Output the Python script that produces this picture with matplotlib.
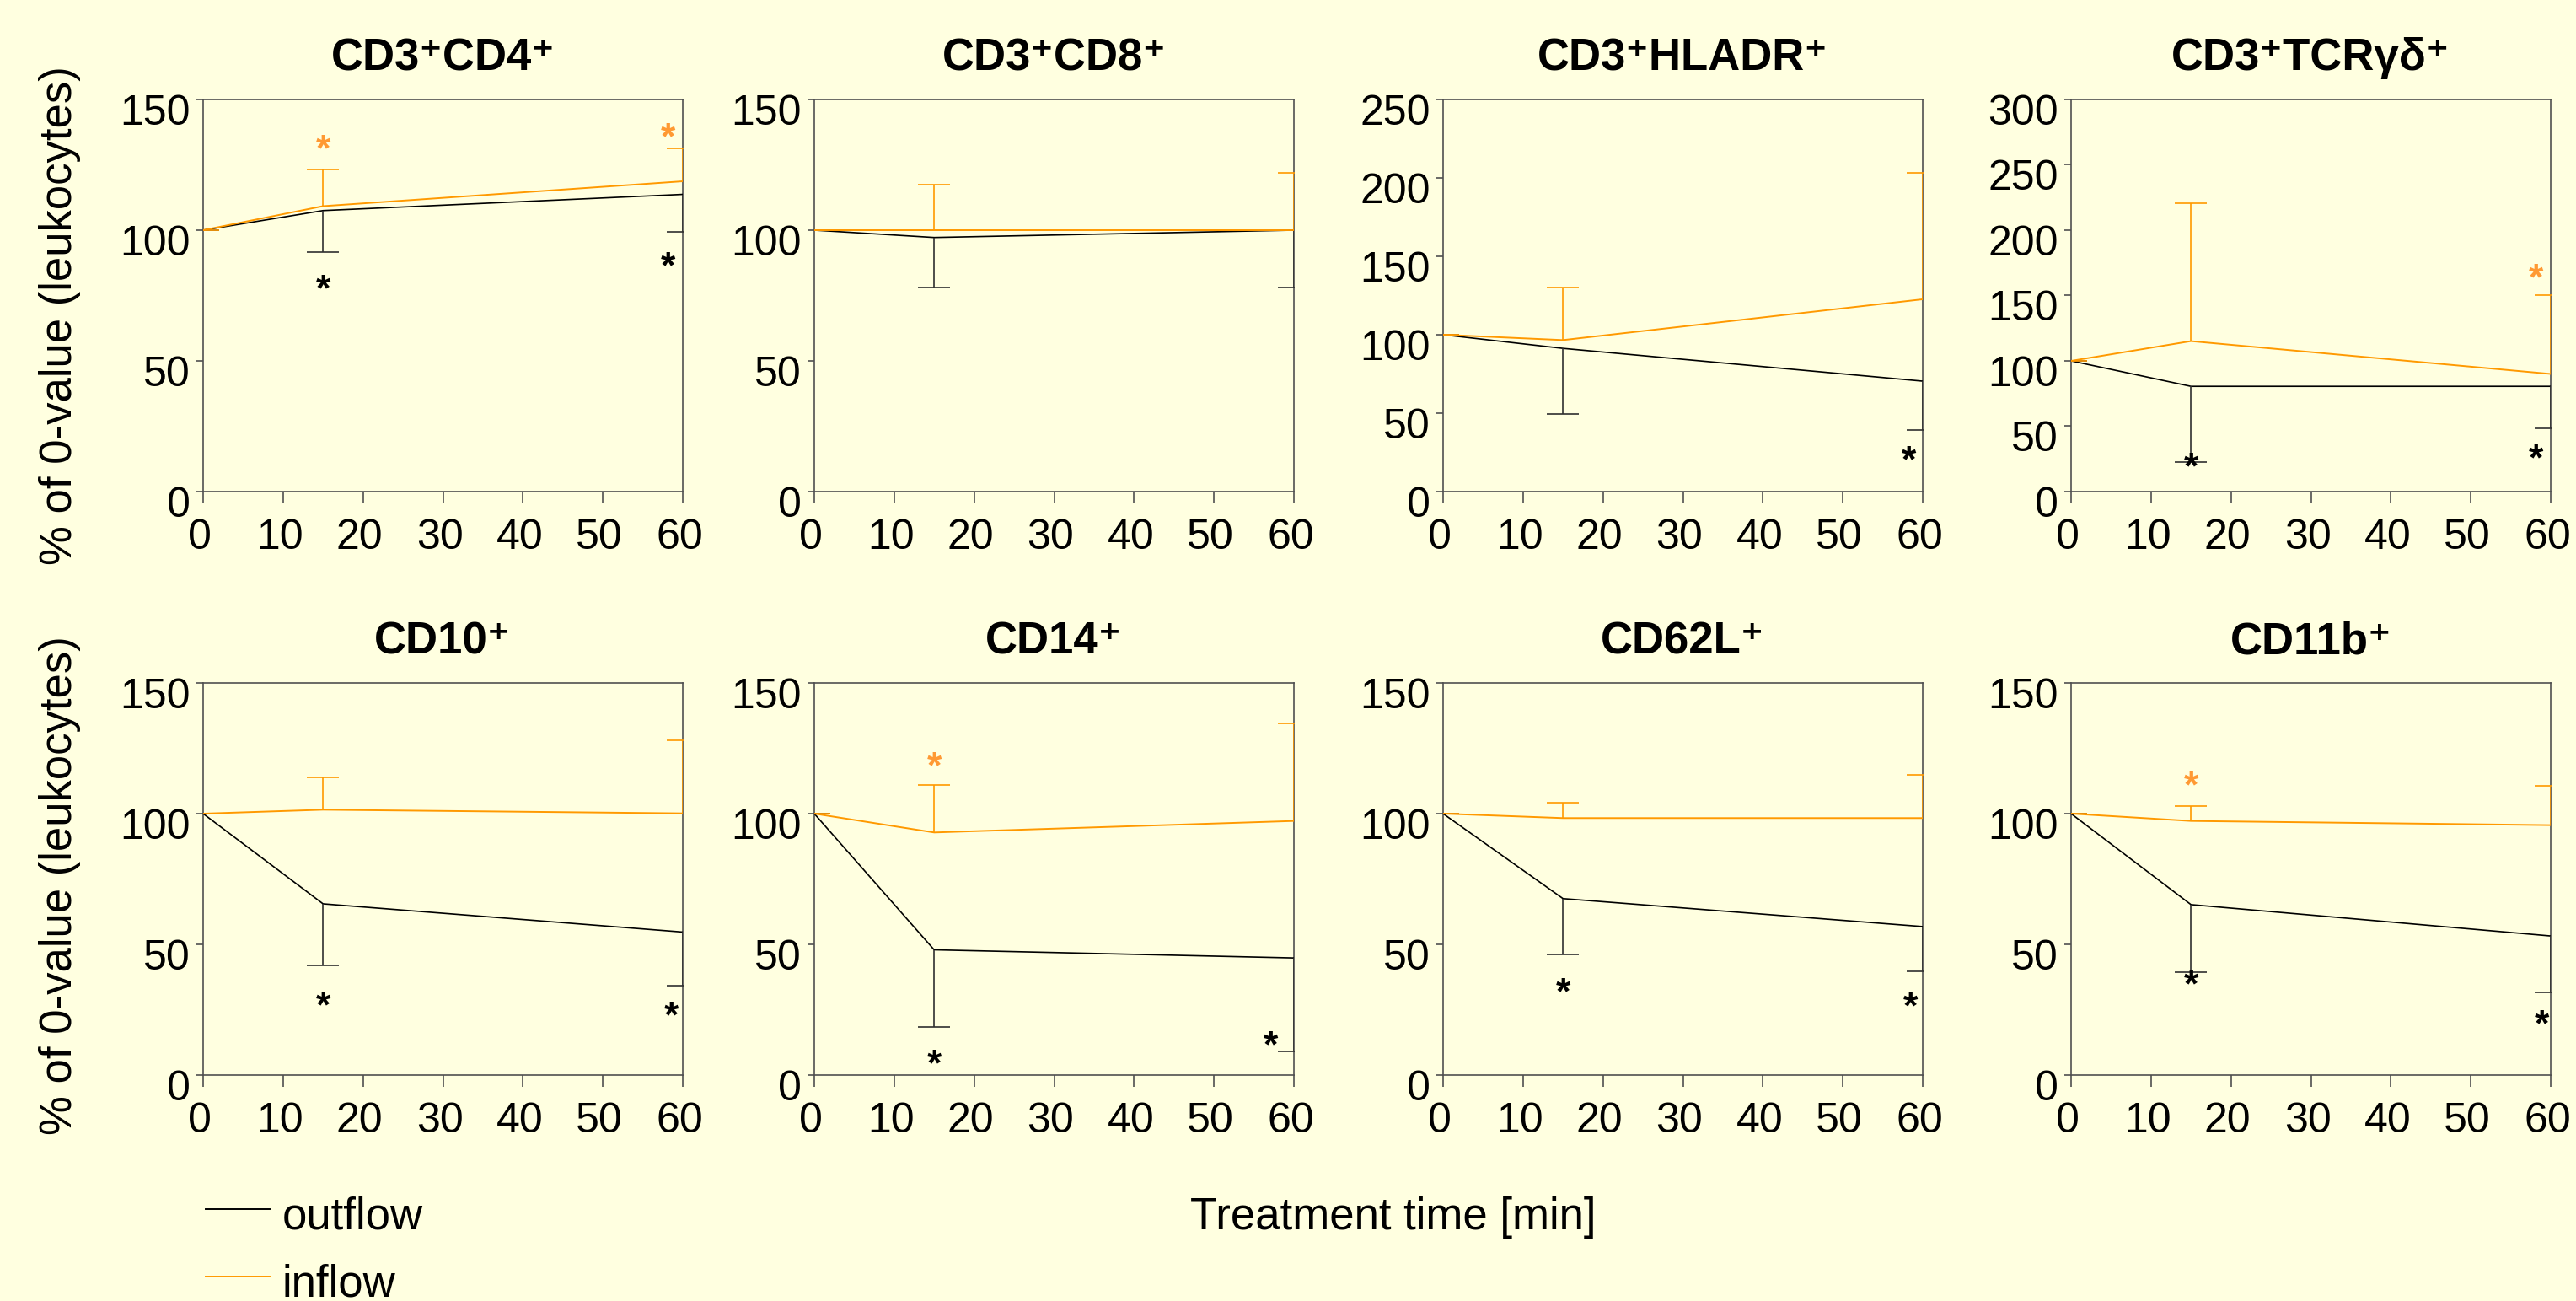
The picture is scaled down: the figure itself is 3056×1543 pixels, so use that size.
import matplotlib
matplotlib.use('Agg')
import matplotlib.pyplot as plt
import matplotlib.transforms as mtransforms
from matplotlib.lines import Line2D

plt.rcParams['font.family'] = ['Liberation Sans', 'DejaVu Sans']

# ---------------- data ----------------
times = [0, 15, 60]
titles = ['CD3⁺CD4⁺', 'CD3⁺CD8⁺', 'CD3⁺HLADR⁺', 'CD3⁺TCRγδ⁺',
          'CD10⁺', 'CD14⁺', 'CD62L⁺', 'CD11b⁺']
y_max = [150, 150, 250, 300, 150, 150, 150, 150]
x_ticks = [0, 10, 20, 30, 40, 50, 60]

outflow_mean = [
    [100, 107.5, 113.7],
    [100, 97.2, 100.0],
    [100, 91.3, 70.4],
    [100, 80.5, 80.5],
    [100, 65.5, 54.7],
    [100, 47.9, 44.8],
    [100, 67.5, 56.8],
    [100, 65.2, 53.2],
]
outflow_sd = [
    [0, 15.9, 14.2],
    [0, 19.0, 22.0],
    [0, 42.0, 31.2],
    [0, 58.0, 32.3],
    [0, 23.5, 20.6],
    [0, 29.6, 35.8],
    [0, 21.5, 17.1],
    [0, 25.9, 21.5],
]
inflow_mean = [
    [100, 109.2, 118.7],
    [100, 100.0, 100.0],
    [100, 96.6, 122.6],
    [100, 115.1, 90.0],
    [100, 101.5, 100.1],
    [100, 92.8, 97.2],
    [100, 98.3, 98.3],
    [100, 97.2, 95.6],
]
inflow_sd = [
    [0, 14.1, 12.6],
    [0, 17.3, 22.0],
    [0, 33.4, 80.5],
    [0, 105.3, 60.0],
    [0, 12.4, 28.0],
    [0, 18.3, 37.2],
    [0, 5.8, 16.5],
    [0, 5.7, 15.0],
]
# significance asterisks (x, y)
outflow_sig = [
    [(15, 81.5), (58.1, 90.1)],
    [],
    [(58.3, 26.4)],
    [(15, 26.5), (58.1, 33.2)],
    [(15, 30.3), (58.6, 26.7)],
    [(15, 8.3), (57.1, 15.4)],
    [(15, 35.7), (58.5, 30.1)],
    [(15, 38.4), (58.9, 23.4)],
]
inflow_sig = [
    [(15, 134.9), (58.1, 139.5)],
    [],
    [],
    [(58.1, 171.0)],
    [],
    [(15, 121.9)],
    [],
    [(15, 114.6)],
]
series_labels = ['outflow', 'inflow']
ylabel = '% of 0-value (leukocytes)'
xlabel = 'Treatment time [min]'

# ---------------- style ----------------
W, H, DPI = 3056, 1543, 100
BG = '#FFFFE0'
C_OUT = '#000000'
C_IN = '#FF9900'
C_IN_STAR = '#FF9933'
SPINE = '#505050'
TICK_FS = 36
LABEL_FS = 38
TITLE_FS = 38
STAR_FS = 32

fig = plt.figure(figsize=(W / DPI, H / DPI), dpi=DPI, facecolor=BG)

lefts = [241, 966, 1712, 2457]
tops = [118, 810]
AW, AH = 569, 465

for i in range(8):
    r, c = divmod(i, 4)
    ax = fig.add_axes([lefts[c] / W, 1 - (tops[r] + AH) / H, AW / W, AH / H])
    ax.set_facecolor(BG)
    ax.set_xlim(0, 60)
    ax.set_ylim(0, y_max[i])
    ax.set_xticks(x_ticks)
    ax.set_yticks(list(range(0, y_max[i] + 1, 50)))
    for s in ax.spines.values():
        s.set_color(SPINE)
        s.set_linewidth(1.2)
    ax.tick_params(axis='x', direction='out', length=10, width=1.2, color=SPINE,
                   labelsize=TICK_FS, pad=13)
    ax.tick_params(axis='y', direction='out', length=6, width=1.2, color=SPINE,
                   labelsize=TICK_FS, pad=5)
    for lab in ax.get_yticklabels():
        lab.set_transform(lab.get_transform() +
                          mtransforms.ScaledTranslation(0, -12 / DPI, fig.dpi_scale_trans))
    for lab in ax.get_xticklabels():
        lab.set_transform(lab.get_transform() +
                          mtransforms.ScaledTranslation(-4 / DPI, 0, fig.dpi_scale_trans))

    # outflow: line + downward error bars
    ax.plot(times, outflow_mean[i], color=C_OUT, lw=1.2, zorder=3)
    eb = ax.errorbar(times, outflow_mean[i], yerr=[outflow_sd[i], [0] * 3], fmt='none',
                     ecolor='#303030', elinewidth=1.2, capsize=13.5, capthick=1.2, zorder=3)
    eb[1][1].set_visible(False)
    # inflow: line + upward error bars
    ax.plot(times, inflow_mean[i], color=C_IN, lw=1.4, zorder=4)
    eb = ax.errorbar(times, inflow_mean[i], yerr=[[0] * 3, inflow_sd[i]], fmt='none',
                     ecolor=C_IN, elinewidth=1.2, capsize=13.5, capthick=1.2, zorder=4)
    eb[1][0].set_visible(False)

    star_tr = mtransforms.offset_copy(ax.transData, fig=fig, y=-0.58 * STAR_FS, units='points')
    for (sx, sy) in outflow_sig[i]:
        ax.text(sx, sy, '*', color=C_OUT, fontsize=STAR_FS, fontweight='bold',
                ha='center', va='baseline', transform=star_tr, clip_on=False)
    for (sx, sy) in inflow_sig[i]:
        ax.text(sx, sy, '*', color=C_IN_STAR, fontsize=STAR_FS, fontweight='bold',
                ha='center', va='baseline', transform=star_tr, clip_on=False)

    ax.set_title(titles[i], fontsize=TITLE_FS, fontweight='bold', pad=25)

    if c == 0:
        ax.set_ylabel(ylabel, fontsize=LABEL_FS)
        yc = 374 if r == 0 else 1050
        ax.yaxis.set_label_coords(71 / W, 1 - yc / H, transform=fig.transFigure)
        ax.yaxis.label.set_va('center')

# legend (drawn manually in figure pixels)
leg_rows = [1434, 1514]
for lab, col, ly in zip(series_labels, [C_OUT, C_IN], leg_rows):
    fig.add_artist(Line2D([244 / W, 320 / W], [1 - ly / H, 1 - ly / H], color=col, lw=1.4,
                          transform=fig.transFigure))
    fig.text(335 / W, 1 - (ly + 24) / H, lab, fontsize=LABEL_FS, va='baseline', ha='left')

fig.text(1653 / W, 1 - 1458 / H, xlabel, fontsize=LABEL_FS, ha='center', va='baseline')

fig.savefig('out.png', dpi=DPI, facecolor=BG)
